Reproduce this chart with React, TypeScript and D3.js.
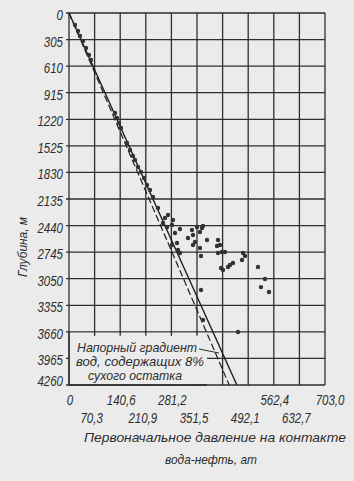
import React from 'react';
import * as d3 from 'd3';

// ---- data ----
const xGridValues = [0, 70.3, 140.6, 210.9, 281.2, 351.5, 421.8, 492.1, 562.4, 632.7, 703.0];
const xLabelsRow1 = ['0', '140,6', '281,2', '562,4', '703,0'];
const xLabelsRow1Values = [0, 140.6, 281.2, 562.4, 703.0];
const xLabelsRow2 = ['70,3', '210,9', '351,5', '492,1', '632,7'];
const xLabelsRow2Values = [70.3, 210.9, 351.5, 492.1, 632.7];
const yGridValues = [0, 305, 610, 915, 1220, 1525, 1830, 2135, 2440, 2745, 3050, 3355, 3660, 3965, 4270];
const yTickLabels = ['0', '305', '610', '915', '1220', '1525', '1830', '2135', '2440', '2745', '3050', '3355', '3660', '3965', '4260'];

// gradient lines (pressure at, depth m)
const solidLinePressure = [0, 461];
const solidLineDepth = [0, 4270];
const dashedLinePressure = [0, 440];
const dashedLineDepth = [0, 4270];

// measured points
const pointPressure = [
  16.5, 24.7, 30.2, 38.4, 46.7, 54.9, 60.4,
  126.3, 131.8, 137.3, 142.8, 159.3, 167.5, 175.7, 181.2, 189.5, 197.7, 206.0, 214.2, 222.4, 230.7, 244.4,
  271.9, 263.6, 258.1, 285.6, 282.8, 269.1, 304.8, 291.1, 296.6, 299.3, 304.8, 282.8,
  337.8, 351.5, 365.2, 359.7, 368.0, 340.5, 326.8, 346.0, 340.5, 359.7, 362.5,
  379.0, 409.2, 414.6, 406.4, 409.2, 420.1, 428.4, 422.9, 417.4, 436.6, 442.1, 450.3,
  475.1, 483.3, 477.8, 519.0, 538.2, 527.2, 549.2, 362.5, 368.0, 464.1,
];
const pointDepth = [
  138, 207, 264, 321, 402, 482, 540,
  1148, 1205, 1263, 1320, 1492, 1573, 1642, 1688, 1768, 1825, 1894, 1975, 2032, 2112, 2239,
  2319, 2353, 2411, 2376, 2434, 2457, 2480, 2526, 2640, 2721, 2755, 2663,
  2491, 2457, 2468, 2514, 2445, 2549, 2583, 2629, 2663, 2698, 2790,
  2606, 2606, 2663, 2675, 2755, 2744, 2744, 2950, 2927, 2916, 2893, 2870,
  2836, 2790, 2755, 2916, 3054, 3146, 3203, 3180, 3524, 3662,
];

const annotationLines = ['Напорный градиент', 'вод, содержащих 8%', 'сухого остатка'];
const xTitleLines = ['Первоначальное давление на контакте', 'вода-нефть, ат'];
const yTitle = 'Глубина, м';

// ---- layout ----
const W = 354;
const H = 481;
const BG = '#ebebeb';
const INK = '#2e2e2e';
const FONT = '"Liberation Sans", "DejaVu Sans", sans-serif';

export default function App() {
  const x = d3.scaleLinear().domain([0, 703]).range([69, 325]);
  const y = d3.scaleLinear().domain([0, 4270]).range([13, 385]);

  const line = d3
    .line<[number, number]>()
    .x((d) => x(d[0]))
    .y((d) => y(d[1]));

  const solidPts: [number, number][] = solidLinePressure.map((p, i) => [p, solidLineDepth[i]]);
  const dashedPts: [number, number][] = dashedLinePressure.map((p, i) => [p, dashedLineDepth[i]]);

  const boxRight = x(379);
  const boxTop = y(3660);
  const boxBottom = y(4270);

  const sx = 0.82;

  return (
    <svg
      width={W}
      height={H}
      style={{ position: 'absolute', left: 0, top: 0, background: BG }}
      fontFamily={FONT}
    >
      <rect x={0} y={0} width={W} height={H} fill={BG} />
      {/* grid */}
      <g stroke={INK} strokeWidth={1.3}>
        {xGridValues.map((v, i) => (
          <line key={'gx' + i} x1={x(v)} x2={x(v)} y1={y(0)} y2={y(4270)} />
        ))}
        {yGridValues.map((v, i) => (
          <line key={'gy' + i} x1={x(0) - 3} x2={x(703)} y1={y(v)} y2={y(v)} />
        ))}
      </g>
      {/* cleared annotation box */}
      <rect x={x(0) + 1} y={boxTop + 1} width={boxRight - x(0) - 1} height={boxBottom - boxTop - 2} fill={BG} />
      <g stroke={INK} strokeWidth={1.3}>
        {xGridValues
          .filter((v) => x(v) > x(0) && x(v) < boxRight)
          .map((v, i) => (
            <line key={'st' + i} x1={x(v)} x2={x(v)} y1={boxTop} y2={boxTop + 4} />
          ))}
        <line x1={x(0)} x2={x(0)} y1={boxTop} y2={boxBottom} />
        <line x1={x(0)} x2={boxRight} y1={boxBottom} y2={boxBottom} />
      </g>

      {/* gradient lines */}
      <path d={line(solidPts) || ''} stroke="#1e1e1e" strokeWidth={1.4} fill="none" />
      <path d={line(dashedPts) || ''} stroke="#1e1e1e" strokeWidth={1.2} fill="none" strokeDasharray="7,3" />

      {/* points */}
      <g fill="#333">
        {pointPressure.map((p, i) => (
          <circle key={'p' + i} cx={x(p)} cy={y(pointDepth[i])} r={2.2} />
        ))}
      </g>

      {/* leader */}
      <line x1={199} y1={349} x2={219} y2={353} stroke={INK} strokeWidth={1} />

      {/* annotation text */}
      <g fill={INK} fontStyle="italic" fontSize={13}>
        <text x={137} y={352} textAnchor="middle" textLength={120} lengthAdjust="spacingAndGlyphs">
          {annotationLines[0]}
        </text>
        <text x={140} y={366} textAnchor="middle" textLength={128} lengthAdjust="spacingAndGlyphs">
          {annotationLines[1]}
        </text>
        <text x={135} y={380} textAnchor="middle" textLength={94} lengthAdjust="spacingAndGlyphs">
          {annotationLines[2]}
        </text>
      </g>

      {/* y tick labels */}
      <g fill={INK} fontStyle="italic" fontSize={14}>
        {yGridValues.map((v, i) => (
          <g key={'yl' + i} transform={`translate(63,${Math.min(y(v) + 7, 386)}) scale(${sx},1)`}>
            <text textAnchor="end">{yTickLabels[i]}</text>
          </g>
        ))}
      </g>

      {/* x tick labels */}
      <g fill={INK} fontStyle="italic" fontSize={14}>
        {xLabelsRow1Values.map((v, i) => (
          <g key={'xa' + i} transform={`translate(${x(v) + (i === 4 ? 5 : 1)},405) scale(${sx},1)`}>
            <text textAnchor="middle">{xLabelsRow1[i]}</text>
          </g>
        ))}
        {xLabelsRow2Values.map((v, i) => (
          <g key={'xb' + i} transform={`translate(${x(v) - 3},423) scale(${sx},1)`}>
            <text textAnchor="middle">{xLabelsRow2[i]}</text>
          </g>
        ))}
      </g>

      {/* axis titles */}
      <g fill={INK} fontStyle="italic" fontSize={13}>
        <text x={215} y={442} textAnchor="middle" textLength={262} lengthAdjust="spacingAndGlyphs">
          {xTitleLines[0]}
        </text>
        <text x={211} y={464} textAnchor="middle" textLength={92} lengthAdjust="spacingAndGlyphs">
          {xTitleLines[1]}
        </text>
        <text
          transform="translate(27,247) rotate(-90)"
          textAnchor="middle"
          textLength={60}
          lengthAdjust="spacingAndGlyphs"
        >
          {yTitle}
        </text>
      </g>
    </svg>
  );
}
